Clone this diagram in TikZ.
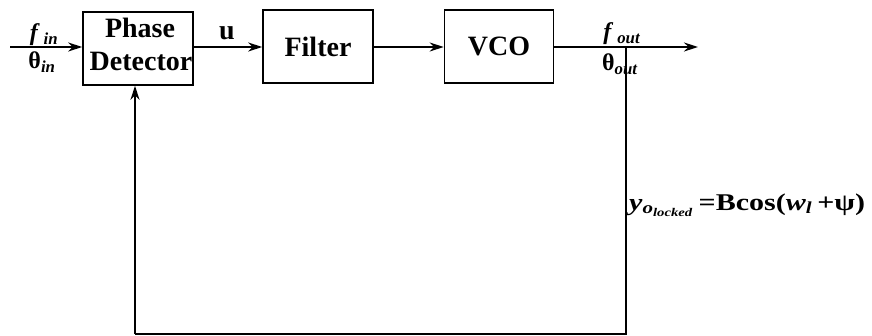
\documentclass[tikz,border=0pt]{standalone}
\usepackage{fontspec}
\setmainfont{Liberation Serif}
\usetikzlibrary{arrows.meta}
\begin{document}
\begin{tikzpicture}[x=1pt,y=-1pt,
  btxt/.style={font=\fontsize{28}{30}\selectfont\bfseries,inner sep=0pt},
  blk/.style={draw,line width=1.6pt,minimum height=73pt,inner sep=0pt,btxt},
  wire/.style={line width=1.8pt},
  arr/.style={wire,-{Stealth[length=14pt,width=9pt]}},
  lbl/.style={font=\fontsize{24}{26}\selectfont\bfseries,inner sep=0pt}]
\useasboundingbox (0,0) rectangle (872,336);
\node[blk,minimum width=110pt] (pd) at (138,48.5) {};
\node[btxt] (pdt1) at (140,28) {Phase};
\node[btxt] (pdt2) at (141,61) {Detector};
\node[blk,minimum width=110pt] (flt) at (318,46.5) {Filter};
\node[blk,minimum width=109pt] (vco) at (499,46.5) {VCO};
\coordinate (in) at (10,47);
\coordinate (out) at (698,47);
\coordinate (br) at (626,47);
\coordinate (c1) at (626,334);
\coordinate (c2) at (135,334);
\draw[arr] (in) -- (in -| pd.west);
\draw[arr] (pd.east |- in) -- (flt.west |- in);
\draw[arr] (flt.east |- in) -- (vco.west |- in);
\draw[arr] (vco.east |- in) -- (out);
\draw[wire] (br) -- (c1) -- (c2);
\draw[arr] (c2) -- (c2 |- pd.south);
\node[lbl] (fin) at (44,35) {\textit{f}\,\textsubscript{\textit{in}}};
\node[lbl] (thin) at (42,62) {θ\textsubscript{\textit{in}}};
\node[btxt] (u) at (227,33) {u};
\node[lbl] (fout) at (622,34) {\textit{f}\,\textsubscript{\textit{out}}};
\node[lbl] (thout) at (620,64) {θ\textsubscript{\textit{out}}};
\node[lbl,anchor=west] (eq) at (629,205) {\scalebox{1.25}[1]{\textit{y}\textsubscript{\textit{o}\textsubscript{\textit{locked}}}\,=Bcos(\textit{w}\textsubscript{\textit{l}}\,+ψ)}};
\end{tikzpicture}
\end{document}
